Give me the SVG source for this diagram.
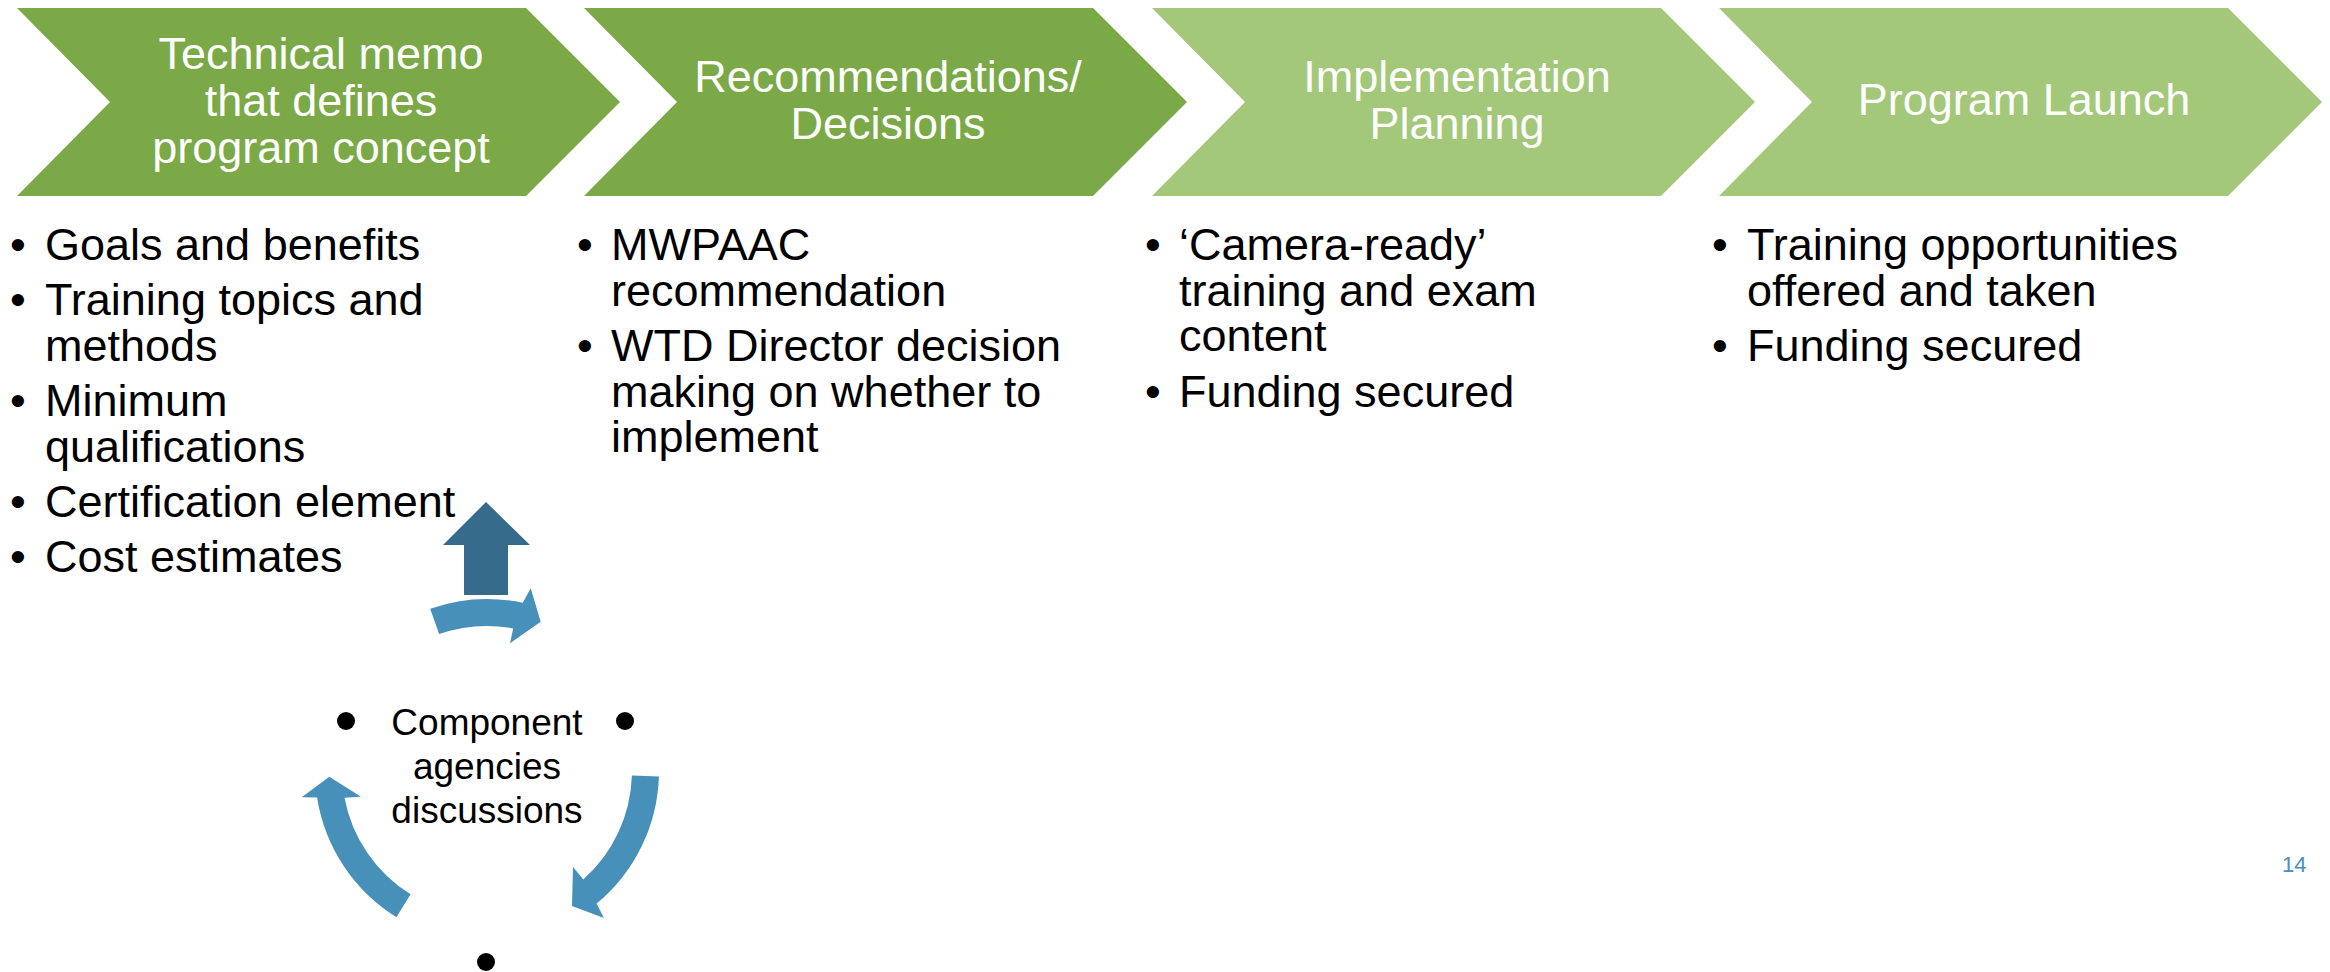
<svg xmlns="http://www.w3.org/2000/svg" width="2330" height="972" viewBox="0 0 2330 972">
<style>
.dk{fill:#7CA947}
.lt{fill:#A4C87A}
.ttl{font-family:"Liberation Sans",Arial,sans-serif;font-size:45px;fill:#FFFFFF;text-anchor:middle}
.bul{font-family:"Liberation Sans",Arial,sans-serif;font-size:45px;fill:#000000}
.cyc{font-family:"Liberation Sans",Arial,sans-serif;font-size:37px;fill:#000000;text-anchor:middle}
.arc{fill:#4790BA}
.up{fill:#376B8B}
.dot{fill:#000000}
.pg{font-family:"Liberation Sans",Arial,sans-serif;font-size:22px;fill:#4A90BE}
</style>
<rect x="0" y="0" width="2330" height="972" fill="#FFFFFF"/>

<g id="step1">
<polygon class="dk" points="17,8 526,8 620,102 526,196 17,196 110,102"/>
<text class="ttl" x="321" y="69">Technical memo</text>
<text class="ttl" x="321" y="116">that defines</text>
<text class="ttl" x="321" y="163">program concept</text>
</g>
<g id="step2">
<polygon class="dk" points="584,8 1093,8 1187,102 1093,196 584,196 677,102"/>
<text class="ttl" x="888" y="92">Recommendations/</text>
<text class="ttl" x="888" y="139">Decisions</text>
</g>
<g id="step3">
<polygon class="lt" points="1152,8 1661,8 1755,102 1661,196 1152,196 1245,102"/>
<text class="ttl" x="1457" y="92">Implementation</text>
<text class="ttl" x="1457" y="139">Planning</text>
</g>
<g id="step4">
<polygon class="lt" points="1719,8 2228,8 2322,102 2228,196 1719,196 1812,102"/>
<text class="ttl" x="2024" y="115">Program Launch</text>
</g>

<g id="list1">
<text class="bul" x="10" y="260">•</text><text class="bul" x="45" y="260">Goals and benefits</text>
<text class="bul" x="10" y="315">•</text><text class="bul" x="45" y="315">Training topics and</text>
<text class="bul" x="45" y="360.5">methods</text>
<text class="bul" x="10" y="416">•</text><text class="bul" x="45" y="416">Minimum</text>
<text class="bul" x="45" y="461.5">qualifications</text>
<text class="bul" x="10" y="516.5">•</text><text class="bul" x="45" y="516.5">Certification element</text>
<text class="bul" x="10" y="571.5">•</text><text class="bul" x="45" y="571.5">Cost estimates</text>
</g>
<g id="list2">
<text class="bul" x="577" y="260">•</text><text class="bul" x="611" y="260">MWPAAC</text>
<text class="bul" x="611" y="305.5">recommendation</text>
<text class="bul" x="577" y="361">•</text><text class="bul" x="611" y="361">WTD Director decision</text>
<text class="bul" x="611" y="406.5">making on whether to</text>
<text class="bul" x="611" y="452">implement</text>
</g>
<g id="list3">
<text class="bul" x="1145" y="260">•</text><text class="bul" x="1179" y="260">‘Camera-ready’</text>
<text class="bul" x="1179" y="305.5">training and exam</text>
<text class="bul" x="1179" y="351">content</text>
<text class="bul" x="1145" y="406.5">•</text><text class="bul" x="1179" y="406.5">Funding secured</text>
</g>
<g id="list4">
<text class="bul" x="1712" y="260">•</text><text class="bul" x="1747" y="260">Training opportunities</text>
<text class="bul" x="1747" y="305.5">offered and taken</text>
<text class="bul" x="1712" y="361">•</text><text class="bul" x="1747" y="361">Funding secured</text>
</g>

<g id="cycle">
<circle class="dot" cx="346" cy="721" r="9"/>
<circle class="dot" cx="625" cy="721" r="9"/>
<circle class="dot" cx="486" cy="962" r="9"/>
<text class="cyc" x="487" y="735">Component</text>
<text class="cyc" x="487" y="779">agencies</text>
<text class="cyc" x="487" y="823">discussions</text>
</g>

<g id="connectors">
<path class="arc" d="M430.2,608.7 A172,172 0 0 1 522.8,602.8 L530.7,588.3 L540.7,621.7 L510,643.3 L513.2,628.4 A145,145 0 0 0 439.1,634.1 Z"/>
<path class="arc" d="M658.9,776.4 A172,172 0 0 1 596.6,903.5 L604,918 L572,906 L573,867 L583.3,879.4 A145,145 0 0 0 631.9,775.6 Z"/>
<path class="arc" d="M396.4,917.2 A172,172 0 0 1 317.1,797.6 L301.7,797.3 L329.3,776.7 L361,796.7 L344.5,797.7 A145,145 0 0 0 410.6,894.2 Z"/>
<polygon class="up" points="486,502 530,545 508,545 508,595 464,595 464,545 443,545"/>
</g>

<text class="pg" x="2282" y="872">14</text>
</svg>
